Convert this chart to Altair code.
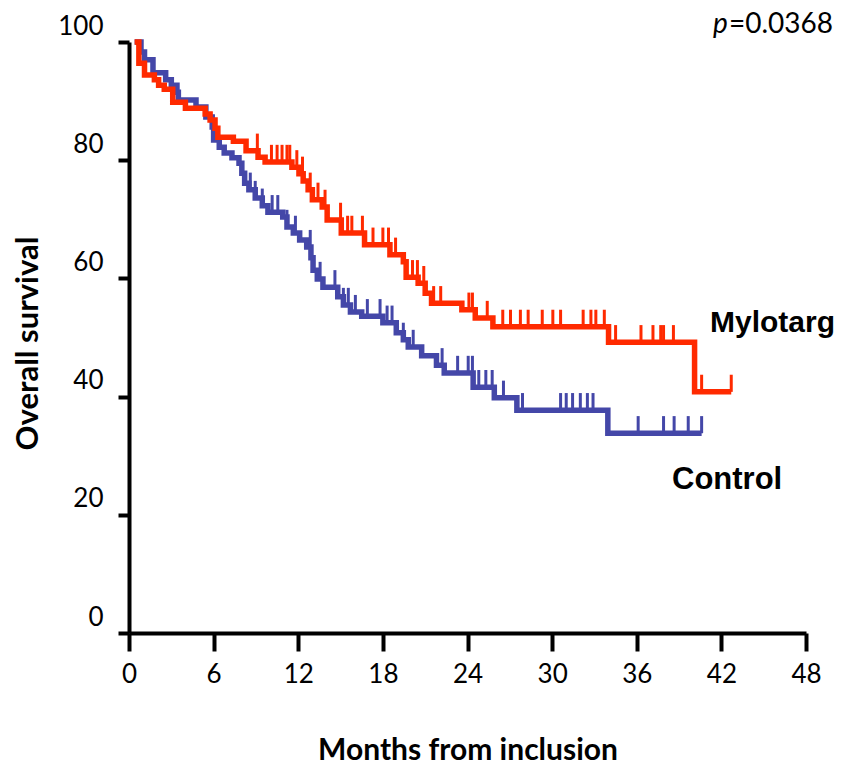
import altair as alt
import pandas as pd

# ---- Data (months, % surviving) ----
red_t = [0.4, 0.7, 1.1, 1.8, 2.1, 2.5, 3.1, 4.0, 5.4, 5.75, 6.1, 6.3, 7.4, 8.3, 9.15, 9.65,
         11.55, 12.05, 12.35, 12.7, 13.0, 13.7, 14.05, 15.05, 16.7, 18.5, 19.45, 19.65, 20.5,
         21.0, 21.45, 23.6, 24.55, 25.8, 34.0, 40.1, 42.7]
red_s = [100, 96.4, 94.4, 93.6, 92.7, 92.0, 89.8, 88.8, 87.8, 86.8, 85.4, 83.9, 83.2, 81.6,
         80.5, 79.7, 78.8, 77.7, 76.5, 75.0, 73.3, 72.1, 69.9, 67.7, 65.7, 64.0, 62.8, 60.2,
         59.2, 57.5, 55.8, 54.7, 53.3, 51.8, 49.2, 40.8, 40.8]
red_censor = [9.1, 10.1, 10.5, 10.85, 11.2, 11.4, 11.9, 12.3, 12.85, 13.4, 13.9, 15.0, 15.5,
              15.8, 16.55, 17.3, 18.0, 18.4, 18.9, 20.1, 20.45, 20.9, 21.6, 22.1, 24.1, 24.35,
              25.4, 26.5, 27.05, 27.75, 28.3, 29.3, 30.05, 30.6, 32.2, 32.75, 33.1, 33.7, 34.5,
              36.3, 37.15, 37.7, 37.9, 38.6, 40.6, 42.7]

blue_t = [0.4, 0.85, 1.1, 1.7, 2.6, 3.0, 3.4, 3.5, 4.75, 5.45, 5.9, 6.0, 6.4, 6.75, 7.3, 7.8,
          8.0, 8.2, 8.5, 8.95, 9.45, 9.85, 10.9, 11.2, 11.65, 12.1, 12.6, 12.9, 13.05, 13.35,
          13.75, 14.8, 15.2, 15.7, 16.5, 18.0, 18.95, 19.45, 19.8, 20.75, 21.8, 22.35, 24.4,
          25.9, 27.5, 33.95, 40.6]
blue_s = [100, 98.3, 97.0, 94.8, 93.6, 92.7, 91.5, 90.2, 89.0, 87.3, 85.6, 83.4, 82.2, 81.2,
          80.4, 79.5, 77.8, 76.1, 75.0, 73.6, 72.3, 71.2, 70.4, 68.7, 67.7, 66.5, 65.3, 63.5,
          61.4, 59.9, 58.5, 56.9, 55.5, 54.3, 53.6, 52.5, 50.8, 49.6, 48.4, 46.9, 45.3, 44.0,
          41.6, 39.8, 37.7, 33.8, 33.8]
blue_censor = [8.6, 8.95, 9.45, 10.15, 10.55, 11.2, 11.8, 12.85, 13.55, 14.6, 15.2, 15.55,
               16.05, 16.9, 17.8, 18.3, 18.65, 19.45, 20.15, 22.2, 23.3, 24.05, 24.35, 24.8,
               25.3, 25.75, 26.55, 27.9, 30.6, 31.0, 31.45, 32.0, 32.5, 32.9, 36.1, 37.9,
               38.65, 39.65, 40.6]

x_ticks = [0, 6, 12, 18, 24, 30, 36, 42, 48]
y_ticks = [0, 20, 40, 60, 80, 100]
arm_labels = ["Mylotarg", "Control"]
p_text = ["p", "=0.0368"]

RED = "#FF2A00"
BLUE = "#4447A8"


def step_value(times, surv, t):
    idx = 0
    for i, tt in enumerate(times):
        if tt <= t + 1e-9:
            idx = i
    return surv[idx]


red_df = pd.DataFrame({"t": red_t, "s": red_s})
blue_df = pd.DataFrame({"t": blue_t, "s": blue_s})
red_c_df = pd.DataFrame({"t": red_censor, "s": [step_value(red_t, red_s, c) for c in red_censor]})
blue_c_df = pd.DataFrame({"t": blue_censor, "s": [step_value(blue_t, blue_s, c) for c in blue_censor]})

x_scale = alt.Scale(domain=[0, 48], nice=False, zero=False)
y_scale = alt.Scale(domain=[0, 100], nice=False)

x_axis = alt.Axis(values=x_ticks, title="Months from inclusion", grid=False,
                  labelFont="Lato", labelFontSize=26, labelColor="black", labelPadding=10,
                  labelFlush=False, tickSize=18, tickWidth=4, tickColor="black",
                  domainWidth=4, domainColor="black",
                  titleFont="Lato", titleFontSize=30, titleFontWeight="bold",
                  titleColor="black", titleY=117, titleBaseline="middle")
y_axis = alt.Axis(values=y_ticks, title="Overall survival", grid=False,
                  labelFont="Lato", labelFontSize=26, labelColor="black", labelPadding=15,
                  labelOffset=-16, labelFlush=False, tickSize=11, tickWidth=4,
                  tickColor="black", domainWidth=4, domainColor="black",
                  titleFont="Lato", titleFontSize=31, titleFontWeight="bold",
                  titleColor="black", titleX=-101, titleY=301, titleAngle=270,
                  titleBaseline="middle")

X = alt.X("t:Q", scale=x_scale, axis=x_axis)
Y = alt.Y("s:Q", scale=y_scale, axis=y_axis)


def curve(df, color):
    return alt.Chart(df).mark_line(interpolate="step-after", strokeWidth=5.5,
                                   strokeJoin="miter", color=color).encode(x=X, y=Y)


def censor(df, color):
    return alt.Chart(df).transform_calculate(top="datum.s + 2.9").mark_rule(
        strokeWidth=3, color=color).encode(x=X, y=Y, y2="top:Q")


def label(text, x, y, font, size, weight="normal", style="normal", align="left"):
    return alt.Chart(pd.DataFrame({"label": [text]})).mark_text(
        font=font, fontSize=size, fontWeight=weight, fontStyle=style, align=align,
        baseline="middle", color="black").encode(
        text="label:N", x=alt.value(x), y=alt.value(y))


chart = alt.layer(
    curve(blue_df, BLUE),
    censor(blue_c_df, BLUE),
    curve(red_df, RED),
    censor(red_c_df, RED),
    label(arm_labels[0], 581, 281, "Liberation Sans", 30, weight="bold"),
    label(arm_labels[1], 543, 438, "Liberation Sans", 31, weight="bold"),
    label(p_text[0], 584, -17, "Lato", 28, style="italic"),
    label(p_text[1], 600, -17, "Lato", 28),
).properties(
    width=677, height=591,
    autosize=alt.AutoSizeParams(type="none"),
    padding={"left": 129, "top": 42, "right": 37, "bottom": 132},
).configure_view(strokeWidth=0)

chart.save("out.html", embed_options={"renderer": "svg", "actions": False})
